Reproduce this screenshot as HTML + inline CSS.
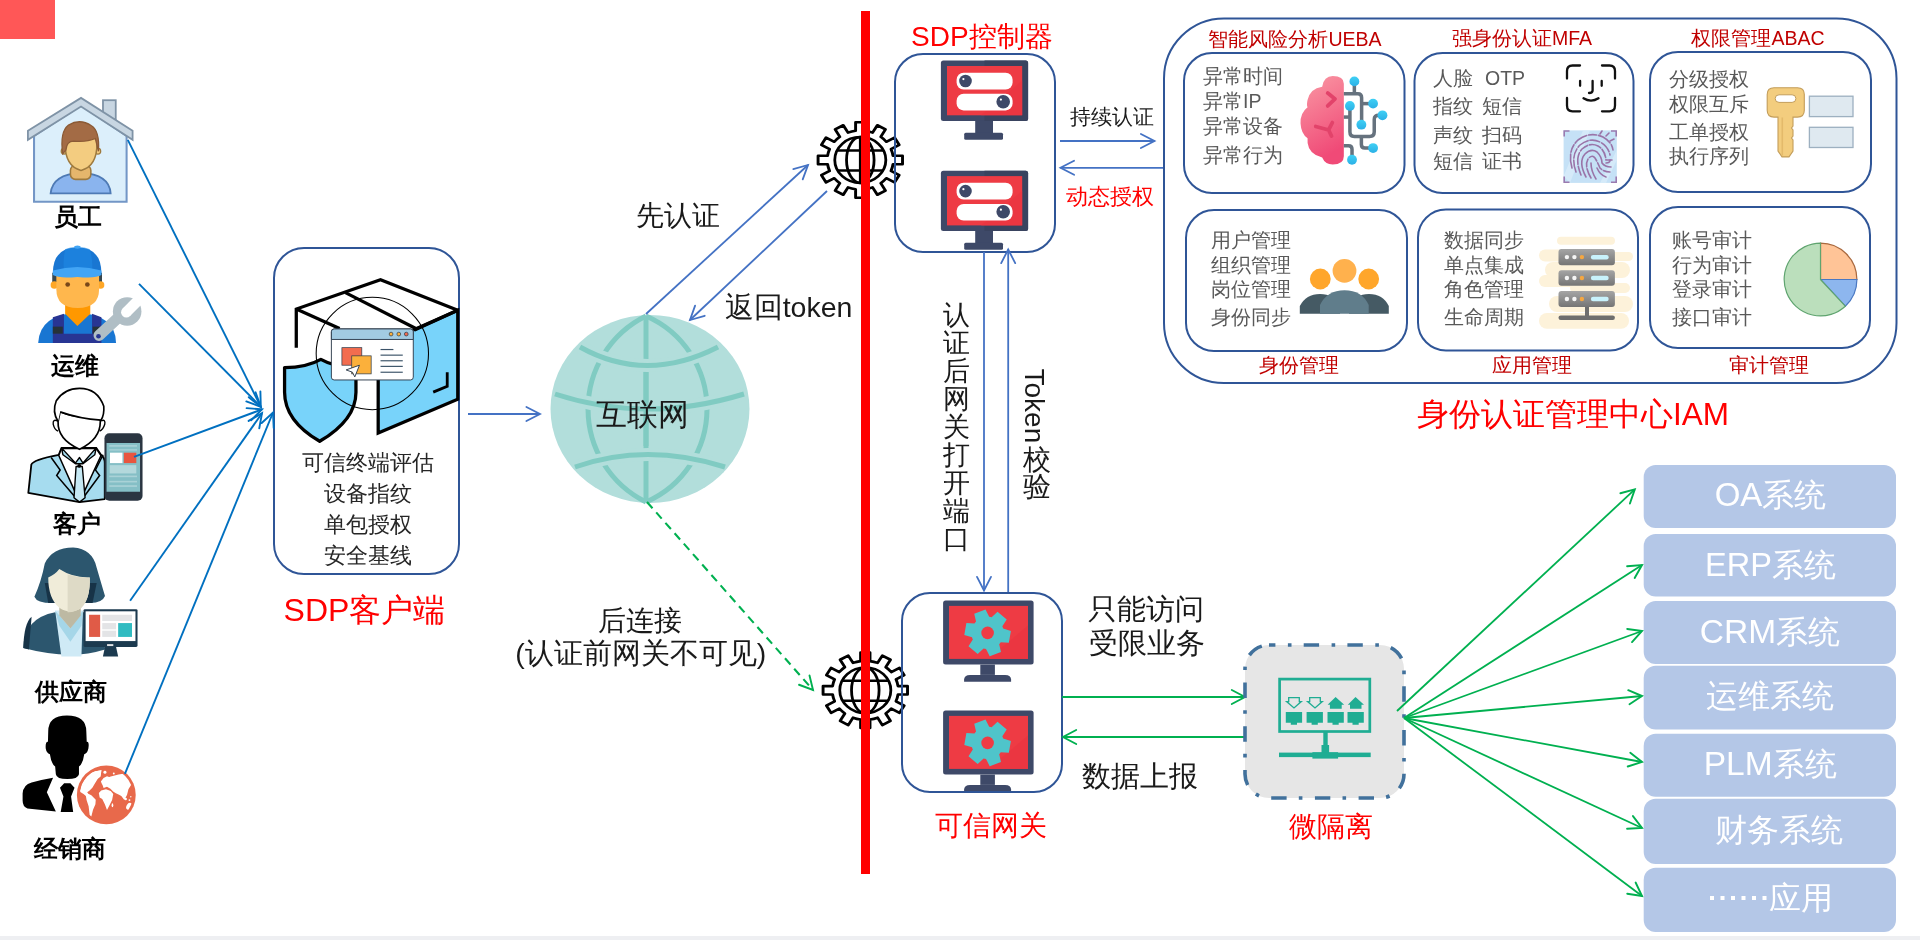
<!DOCTYPE html>
<html><head><meta charset="utf-8">
<style>
html,body{margin:0;padding:0;background:#fff;}
body{width:1920px;height:940px;overflow:hidden;position:relative;font-family:"Liberation Sans",sans-serif;}
svg{position:absolute;left:0;top:0;will-change:transform;}
text{font-family:"Liberation Sans",sans-serif;}
</style></head><body>
<svg width="1920" height="940" viewBox="0 0 1920 940">
<defs>
<marker id="ab" viewBox="-16 -8 17 16" refX="0" refY="0" markerWidth="17" markerHeight="16" markerUnits="userSpaceOnUse" orient="auto" overflow="visible"><path d="M-13.6,-7 L0,0 L-13.6,7" fill="none" stroke="#4472C4" stroke-width="1.8" stroke-linecap="round" stroke-linejoin="miter"/></marker>
<marker id="ab2" viewBox="-16 -8 17 16" refX="0" refY="0" markerWidth="17" markerHeight="16" markerUnits="userSpaceOnUse" orient="auto" overflow="visible"><path d="M-14,-6.5 L0,0 L-14,6.5" fill="none" stroke="#0070C0" stroke-width="1.9" stroke-linecap="round" stroke-linejoin="miter"/></marker>
<marker id="ag" viewBox="-16 -8 17 16" refX="0" refY="0" markerWidth="17" markerHeight="16" markerUnits="userSpaceOnUse" orient="auto" overflow="visible"><path d="M-13.2,-7 L0,0 L-13.2,7" fill="none" stroke="#00B050" stroke-width="1.9" stroke-linecap="round" stroke-linejoin="miter"/></marker>

<symbol id="gearglobe" overflow="visible">
<g transform="scale(1.12,1)">
<path d="M-4.20,-29.20 L-4.20,-37.70 L4.20,-37.70 L4.20,-29.20 A29.5,29.5 0 0 1 10.96,-27.39 L15.21,-34.75 L22.49,-30.55 L18.24,-23.19 A29.5,29.5 0 0 1 23.19,-18.24 L30.55,-22.49 L34.75,-15.21 L27.39,-10.96 A29.5,29.5 0 0 1 29.20,-4.20 L37.70,-4.20 L37.70,4.20 L29.20,4.20 A29.5,29.5 0 0 1 27.39,10.96 L34.75,15.21 L30.55,22.49 L23.19,18.24 A29.5,29.5 0 0 1 18.24,23.19 L22.49,30.55 L15.21,34.75 L10.96,27.39 A29.5,29.5 0 0 1 4.20,29.20 L4.20,37.70 L-4.20,37.70 L-4.20,29.20 A29.5,29.5 0 0 1 -10.96,27.39 L-15.21,34.75 L-22.49,30.55 L-18.24,23.19 A29.5,29.5 0 0 1 -23.19,18.24 L-30.55,22.49 L-34.75,15.21 L-27.39,10.96 A29.5,29.5 0 0 1 -29.20,4.20 L-37.70,4.20 L-37.70,-4.20 L-29.20,-4.20 A29.5,29.5 0 0 1 -27.39,-10.96 L-34.75,-15.21 L-30.55,-22.49 L-23.19,-18.24 A29.5,29.5 0 0 1 -18.24,-23.19 L-22.49,-30.55 L-15.21,-34.75 L-10.96,-27.39 A29.5,29.5 0 0 1 -4.20,-29.20Z" fill="#fff" stroke="#000" stroke-width="2.6" stroke-linejoin="round"/>
<ellipse cx="0" cy="0" rx="22.8" ry="22.9" fill="none" stroke="#000" stroke-width="2.5"/>
<ellipse cx="0" cy="0" rx="12.3" ry="22.9" fill="none" stroke="#000" stroke-width="2.5"/>
<line x1="0" y1="-22.9" x2="0" y2="22.9" stroke="#000" stroke-width="2.5"/>
<line x1="-20.5" y1="-9.5" x2="20.5" y2="-9.5" stroke="#000" stroke-width="2.5"/>
<line x1="-20.5" y1="10.5" x2="20.5" y2="10.5" stroke="#000" stroke-width="2.5"/>
</g>
</symbol>
<symbol id="mon1" overflow="visible">
<rect x="0" y="0" width="87.2" height="60.3" rx="2.5" fill="#3E4968"/>
<path d="M43.6,0 H84.7 Q87.2,0 87.2,2.5 V57.8 Q87.2,60.3 84.7,60.3 H43.6Z" fill="#39435F"/>
<rect x="6.1" y="5.4" width="75.2" height="49.3" fill="#EE3B44"/>
<path d="M81.3,20 V54.7 H40Z" fill="#EA3540" opacity="0.7"/>
<rect x="15.7" y="12.1" width="56" height="16.8" rx="7" fill="#fff"/>
<rect x="15.7" y="33.2" width="56" height="16.6" rx="7" fill="#fff"/>
<circle cx="24.6" cy="20.4" r="6.3" fill="#3E4968"/>
<circle cx="62.3" cy="41.1" r="6.8" fill="#3E4968"/>
<circle cx="22.5" cy="18.5" r="1.1" fill="#fff"/>
<circle cx="60" cy="39" r="1.1" fill="#fff"/>
<rect x="34.3" y="60.3" width="17.8" height="12.1" fill="#3E4968"/>
<rect x="23.3" y="72.1" width="38.8" height="7" rx="1.5" fill="#3E4968"/>
</symbol>
<symbol id="mon2" overflow="visible">
<rect x="0" y="0" width="90.5" height="64" rx="2.5" fill="#3E4968"/>
<rect x="5.9" y="5.3" width="79" height="53" fill="#EE3B44"/>
<path d="M84.9,25 V58.3 H45Z" fill="#EA3540" opacity="0.7"/>
<g transform="translate(44.5,32.3)"><path d="M15.60,-4.36 L23.30,-1.98 L21.21,9.83 L13.17,9.43 A16.2,16.2 0 0 1 11.57,11.33 L13.37,19.18 L2.09,23.29 L-1.58,16.12 A16.2,16.2 0 0 1 -4.03,15.69 L-9.93,21.17 L-19.12,13.46 L-14.75,6.69 A16.2,16.2 0 0 1 -15.60,4.36 L-23.30,1.98 L-21.21,-9.83 L-13.17,-9.43 A16.2,16.2 0 0 1 -11.57,-11.33 L-13.37,-19.18 L-2.09,-23.29 L1.58,-16.12 A16.2,16.2 0 0 1 4.03,-15.69 L9.93,-21.17 L19.12,-13.46 L14.75,-6.69 A16.2,16.2 0 0 1 15.60,-4.36Z" fill="#4FC4CA"/><circle r="6.3" fill="#EE3B44"/></g>
<rect x="37.2" y="64" width="14.6" height="10.3" fill="#3E4968"/>
<path d="M21,81.1 V79 Q21,74.3 27,74.3 H62 Q68,74.3 68,79 V81.1Z" fill="#3E4968"/>
</symbol>
</defs>
<!-- top-left red block -->
<rect x="0" y="0" width="55" height="39" fill="#FF5757"/>
<!-- bottom strip -->
<rect x="0" y="936" width="1920" height="4" fill="#EEEFF2"/>


<!-- gears -->
<use href="#gearglobe" x="860.3" y="160"/>
<use href="#gearglobe" x="865.3" y="690.3"/>
<!-- controller monitors -->
<use href="#mon1" x="940.9" y="60.6"/>
<use href="#mon1" x="940.9" y="170.7"/>
<!-- gateway monitors -->
<use href="#mon2" x="943.1" y="600.6"/>
<use href="#mon2" x="943.1" y="710.6"/>
<!-- red vertical line -->
<rect x="861" y="11" width="9" height="863" fill="#FF0000"/>

<!-- SDP client box -->
<rect x="274" y="248" width="185" height="326" rx="30" fill="none" stroke="#2F5597" stroke-width="2"/>
<g font-size="22" fill="#262626" text-anchor="middle">
<text x="368" y="470">可信终端评估</text>
<text x="368" y="501">设备指纹</text>
<text x="368" y="532">单包授权</text>
<text x="368" y="563">安全基线</text>
</g>
<text x="364.5" y="620.5" font-size="32" fill="#FF0000" text-anchor="middle">SDP客户端</text>

<!-- arrow client->globe -->
<line x1="468" y1="414" x2="540" y2="414" stroke="#4472C4" stroke-width="1.8" marker-end="url(#ab)"/>

<!-- globe -->
<g id="globe">
<ellipse cx="650" cy="409" rx="99.5" ry="94" fill="#B2DEDB"/>
<g fill="none" stroke="#80CBC2" stroke-width="5">
<path d="M646,316 A103.6,103.6 0 0 0 646,502"/>
<path d="M646,316 A101.4,101.4 0 0 1 646,502"/>
<line x1="646" y1="316" x2="646" y2="502"/>
</g>
<g fill="none" stroke="#B2DEDB" stroke-width="13">
<path d="M580,347 Q646,384 718,347"/>
<path d="M555,394 Q646,424 744,394"/>
<path d="M575,467 Q646,442 725,467"/>
</g>
<g fill="none" stroke="#80CBC2" stroke-width="5">
<line x1="646" y1="372" x2="646" y2="446"/>
<path d="M580,347 Q646,384 718,347"/>
<path d="M555,394 Q646,424 744,394"/>
<path d="M575,467 Q646,442 725,467"/>
</g>
</g>
<text x="642" y="425" font-size="31" fill="#1a1a1a" text-anchor="middle">互联网</text>

<!-- auth arrows -->
<line x1="646" y1="314" x2="808" y2="165" stroke="#4472C4" stroke-width="1.8" marker-end="url(#ab)"/>
<line x1="827" y1="191" x2="690" y2="320" stroke="#4472C4" stroke-width="1.8" marker-end="url(#ab)"/>
<text x="677.5" y="224.5" font-size="28" fill="#1a1a1a" text-anchor="middle">先认证</text>
<text x="788.5" y="316.5" font-size="28.5" fill="#1a1a1a" text-anchor="middle">返回token</text>

<!-- dashed green -->
<line x1="647" y1="502" x2="813" y2="690" stroke="#00B050" stroke-width="2.1" stroke-dasharray="8.3,5.6" marker-end="url(#ag)"/>
<text x="640.1" y="630" font-size="28.2" fill="#1a1a1a" text-anchor="middle">后连接</text>
<text x="640.8" y="663" font-size="28.5" fill="#1a1a1a" text-anchor="middle">(认证前网关不可见)</text>

<!-- controller -->
<text x="981.9" y="45.5" font-size="28" fill="#FF0000" text-anchor="middle">SDP控制器</text>
<rect x="895" y="54" width="160" height="198" rx="28" fill="none" stroke="#2F5597" stroke-width="2"/>

<!-- gateway -->
<rect x="902" y="593" width="160" height="199" rx="28" fill="none" stroke="#2F5597" stroke-width="2"/>
<text x="991.3" y="834.5" font-size="28" fill="#FF0000" text-anchor="middle">可信网关</text>

<!-- controller <-> IAM arrows -->
<line x1="1060" y1="141" x2="1154.5" y2="141" stroke="#4472C4" stroke-width="1.8" marker-end="url(#ab)"/>
<line x1="1165" y1="167.8" x2="1060.5" y2="167.8" stroke="#4472C4" stroke-width="1.8" marker-end="url(#ab)"/>
<text x="1111.5" y="124" font-size="21" fill="#1a1a1a" text-anchor="middle">持续认证</text>
<text x="1110.3" y="204" font-size="21.6" fill="#FF0000" text-anchor="middle">动态授权</text>

<!-- vertical arrows -->
<line x1="984" y1="252" x2="984" y2="590.5" stroke="#4472C4" stroke-width="1.8" marker-end="url(#ab)"/>
<line x1="1008.2" y1="592" x2="1008.2" y2="249.5" stroke="#4472C4" stroke-width="1.8" marker-end="url(#ab)"/>

<!-- gateway <-> micro -->
<line x1="1062" y1="697" x2="1245" y2="697" stroke="#00B050" stroke-width="1.8" marker-end="url(#ag)"/>
<line x1="1245" y1="737" x2="1063" y2="737" stroke="#00B050" stroke-width="1.8" marker-end="url(#ag)"/>
<text x="1146" y="619" font-size="28.5" fill="#1a1a1a" text-anchor="middle">只能访问</text>
<text x="1146.5" y="653" font-size="28.5" fill="#1a1a1a" text-anchor="middle">受限业务</text>
<text x="1139.8" y="786" font-size="28.6" fill="#1a1a1a" text-anchor="middle">数据上报</text>

<!-- micro isolation -->
<rect x="1245" y="645" width="159" height="153" rx="24" fill="#E6E6E6" stroke="#41719C" stroke-width="3.6" stroke-dasharray="15.4,12.5,3.6,12.2" stroke-dashoffset="9"/>
<text x="1330.9" y="836" font-size="28.2" fill="#FF0000" text-anchor="middle">微隔离</text>

<!-- system boxes -->
<g fill="#B4C7E7">
<rect x="1643.7" y="464.9" width="252.3" height="63" rx="12"/>
<rect x="1643.7" y="534.1" width="252.3" height="62.5" rx="12"/>
<rect x="1643.7" y="601" width="252.3" height="63" rx="12"/>
<rect x="1643.7" y="665.7" width="252.3" height="63.9" rx="12"/>
<rect x="1643.7" y="733.8" width="252.3" height="63" rx="12"/>
<rect x="1643.7" y="798.8" width="252.3" height="65.1" rx="12"/>
<rect x="1643.7" y="867.8" width="252.3" height="64.1" rx="12"/>
</g>
<g font-size="32" fill="#FFFFFF" text-anchor="middle">
<text x="1770.5" y="505.8"><tspan font-size="33">OA</tspan>系统</text>
<text x="1770.5" y="576"><tspan font-size="32.5">ERP</tspan>系统</text>
<text x="1770" y="643.2"><tspan font-size="33.5">CRM</tspan>系统</text>
<text x="1769.5" y="706.7">运维系统</text>
<text x="1770.2" y="775.4"><tspan font-size="33.5">PLM</tspan>系统</text>
<text x="1779.4" y="840.9">财务系统</text>
<text x="1801.1" y="909.2">应用</text>
</g>
<g fill="#FFFFFF"><rect x="1710" y="896" width="4" height="4"/><rect x="1720.5" y="896" width="4" height="4"/><rect x="1731" y="896" width="4" height="4"/><rect x="1741.5" y="896" width="4" height="4"/><rect x="1752" y="896" width="4" height="4"/><rect x="1762.5" y="896" width="4" height="4"/></g>
<!-- fan -->
<g stroke="#00B050" stroke-width="1.8" fill="none" marker-end="url(#ag)">
<line x1="1397" y1="711" x2="1634.8" y2="489.4"/>
<line x1="1404" y1="718" x2="1642" y2="565"/>
<line x1="1404" y1="718" x2="1642" y2="631"/>
<line x1="1404" y1="718" x2="1642" y2="696"/>
<line x1="1404" y1="718" x2="1642" y2="762"/>
<line x1="1404" y1="718" x2="1642" y2="828"/>
<line x1="1404" y1="718" x2="1642" y2="896"/>
</g>

<!-- IAM -->
<rect x="1164" y="18.5" width="732.5" height="364.5" rx="60" fill="none" stroke="#2F5597" stroke-width="2"/>
<g fill="none" stroke="#2F5597" stroke-width="2">
<rect x="1184" y="53" width="220.5" height="140" rx="28"/>
<rect x="1414.5" y="53" width="219" height="140" rx="28"/>
<rect x="1650" y="52" width="221" height="140" rx="28"/>
<rect x="1186" y="210" width="221" height="141" rx="28"/>
<rect x="1418" y="209.5" width="220" height="141" rx="28"/>
<rect x="1650" y="207" width="220" height="141" rx="28"/>
</g>
<g font-size="19.5" fill="#C00000" text-anchor="middle">
<text x="1295" y="46">智能风险分析UEBA</text>
<text x="1522" y="45">强身份认证MFA</text>
<text x="1758" y="45">权限管理ABAC</text>
<text x="1299" y="372">身份管理</text>
<text x="1532" y="372">应用管理</text>
<text x="1769" y="372">审计管理</text>
</g>
<text x="1573" y="425" font-size="31.5" fill="#FF0000" text-anchor="middle">身份认证管理中心IAM</text>
<g font-size="19.5" fill="#595959">
<text x="1203" y="83">异常时间</text>
<text x="1203" y="108">异常IP</text>
<text x="1203" y="133">异常设备</text>
<text x="1203" y="162">异常行为</text>
<text x="1433" y="85">人脸</text><text x="1485" y="85">OTP</text>
<text x="1433" y="113">指纹</text><text x="1482" y="113">短信</text>
<text x="1433" y="142">声纹</text><text x="1482" y="142">扫码</text>
<text x="1433" y="168">短信</text><text x="1482" y="168">证书</text>
<text x="1669" y="86">分级授权</text>
<text x="1669" y="111">权限互斥</text>
<text x="1669" y="139">工单授权</text>
<text x="1669" y="163">执行序列</text>
<text x="1211" y="247">用户管理</text>
<text x="1211" y="272">组织管理</text>
<text x="1211" y="296">岗位管理</text>
<text x="1211" y="324">身份同步</text>
<text x="1444" y="247">数据同步</text>
<text x="1444" y="272">单点集成</text>
<text x="1444" y="296">角色管理</text>
<text x="1444" y="324">生命周期</text>
<text x="1672" y="247">账号审计</text>
<text x="1672" y="272">行为审计</text>
<text x="1672" y="296">登录审计</text>
<text x="1672" y="324">接口审计</text>
</g>


<!-- actor 1: employee house -->
<g transform="translate(20,90) scale(0.12766)">
<path d="M110,360 L478,120 L835,360 L835,875 L110,875 Z" fill="#DCEFFB" stroke="#7396C6" stroke-width="16"/>
<rect x="650" y="80" width="100" height="150" fill="#C8D6E2" stroke="#7F93A6" stroke-width="14"/>
<path d="M62,320 L478,62 L882,320 L882,390 L478,130 L62,390 Z" fill="#C8D6E2" stroke="#7F93A6" stroke-width="14" stroke-linejoin="miter"/>
<path d="M240,810 Q255,660 478,650 Q700,660 710,810 Z" fill="#8AB4EE" stroke="#4E7AB5" stroke-width="14"/>
<rect x="395" y="590" width="160" height="110" rx="40" fill="#E5B66C" stroke="#9E7A3E" stroke-width="12"/>
<circle cx="345" cy="480" r="22" fill="#F3CC80" stroke="#9E7A3E" stroke-width="10"/>
<circle cx="610" cy="480" r="22" fill="#F3CC80" stroke="#9E7A3E" stroke-width="10"/>
<path d="M353,420 Q353,600 478,630 Q603,600 603,420 Q603,300 478,300 Q353,300 353,420Z" fill="#F3CC80" stroke="#9E7A3E" stroke-width="12"/>
<path d="M335,500 Q310,330 380,275 Q470,220 560,280 Q625,320 615,480 Q600,420 590,380 Q520,410 420,400 Q365,400 360,470 Z" fill="#A36B45" stroke="#8B5A35" stroke-width="10"/>
</g>

<!-- actor 2: worker -->
<g transform="translate(30,240) scale(0.11707)">
<path d="M70,880 Q80,640 405,620 Q735,640 735,880 Z" fill="#1976D2"/>
<path d="M195,660 L290,630 L290,800 L530,800 L530,630 L610,660 L610,880 L195,880 Z" fill="#283593"/>
<rect x="195" y="740" width="85" height="60" fill="#263238"/>
<rect x="535" y="740" width="75" height="60" fill="#263238"/>
<path d="M300,540 L515,540 L515,630 L405,735 L300,630 Z" fill="#FF9800"/>
<rect x="190" y="280" width="55" height="95" fill="#37474F"/>
<rect x="565" y="280" width="50" height="95" fill="#37474F"/>
<circle cx="208" cy="385" r="32" fill="#FFA726"/>
<circle cx="603" cy="385" r="32" fill="#FFA726"/>
<path d="M225,300 L590,300 L590,420 Q590,580 407,580 Q225,580 225,420 Z" fill="#FFB74D"/>
<circle cx="322" cy="380" r="20" fill="#784719"/>
<circle cx="490" cy="380" r="20" fill="#784719"/>
<path d="M195,285 Q195,65 405,65 Q610,65 610,285 Z" fill="#1976D2"/>
<path d="M300,80 Q340,60 405,60 Q470,60 510,80 Q540,180 530,250 L290,250 Q280,180 300,80Z" fill="#1E88E5" opacity="0.6"/>
<path d="M195,260 Q405,200 610,260 L610,300 Q560,330 405,315 Q250,330 195,300 Z" fill="#42A5F5"/>
<ellipse cx="405" cy="60" rx="28" ry="14" fill="#42A5F5"/>
<mask id="wrm" maskUnits="userSpaceOnUse" x="400" y="400" width="700" height="600"><rect x="400" y="400" width="700" height="600" fill="#fff"/><g transform="rotate(-45 830 610)"><rect x="820" y="565" width="250" height="90" fill="#000"/><circle cx="820" cy="610" r="45" fill="#000"/></g></mask>
<g mask="url(#wrm)" fill="#B0BEC5">
<line x1="590" y1="815" x2="790" y2="630" stroke="#B0BEC5" stroke-width="95" stroke-linecap="round"/>
<circle cx="830" cy="610" r="122"/>
</g>
<circle cx="585" cy="822" r="20" fill="#283593"/>
</g>

<!-- actor 3: customer -->
<g transform="translate(20,380) scale(0.13846)">
<path d="M60,815 L82,610 Q95,575 280,540 L300,490 L550,490 L585,540 Q612,560 612,600 L612,860 L430,882 Z" fill="#A6DCEF" stroke="#000" stroke-width="13" stroke-linejoin="round"/>
<path d="M280,545 L430,880 L585,545 L550,495 L300,495 Z" fill="#fff" stroke="#000" stroke-width="11" stroke-linejoin="round"/>
<path d="M225,560 L290,650 L265,690 L410,860" fill="none" stroke="#000" stroke-width="11"/>
<path d="M600,540 L545,650 L575,690 L450,860" fill="none" stroke="#000" stroke-width="11"/>
<path d="M300,490 L400,600 L430,560 L455,600 L550,490 L540,540 L455,605 L400,605 L310,540 Z" fill="#A6DCEF" stroke="#000" stroke-width="10" stroke-linejoin="round"/>
<path d="M405,625 L450,625 L470,850 L430,882 L390,850 Z" fill="#C6E9F4" stroke="#000" stroke-width="10" stroke-linejoin="round"/>
<circle cx="428" cy="620" r="14" fill="#000"/>
<path d="M275,300 Q270,430 430,500 Q580,430 580,300 L575,250 Q430,290 290,230 Z" fill="#fff" stroke="#000" stroke-width="12"/>
<path d="M275,300 Q230,230 262,150 Q320,60 430,60 Q560,60 605,190 Q610,250 585,290 Q430,280 290,230" fill="#fff" stroke="#000" stroke-width="12"/>
<path d="M270,295 Q235,280 240,320 Q250,360 275,370" fill="none" stroke="#000" stroke-width="10"/>
<path d="M585,295 Q620,280 612,320 Q600,360 575,370" fill="none" stroke="#000" stroke-width="10"/>
<rect x="610" y="385" width="275" height="487" rx="35" fill="#2A3541"/>
<rect x="625" y="455" width="242" height="352" fill="#85BFC6"/>
<rect x="645" y="470" width="200" height="12" fill="#A9D2D7"/>
<rect x="645" y="500" width="200" height="10" fill="#A9D2D7"/>
<rect x="650" y="525" width="90" height="75" fill="#fff"/>
<rect x="750" y="525" width="90" height="75" fill="#E8553F"/>
<rect x="648" y="615" width="192" height="60" fill="#B3D8DC"/>
<rect x="645" y="690" width="200" height="12" fill="#A9D2D7"/>
<rect x="645" y="728" width="200" height="12" fill="#A9D2D7"/>
<rect x="645" y="760" width="200" height="12" fill="#A9D2D7"/>
</g>

<!-- actor 4: supplier -->
<g transform="translate(15,540) scale(0.13846)">
<path d="M140,410 Q190,300 215,170 Q270,55 420,55 Q560,65 590,200 Q625,320 650,405 Q630,455 545,455 L290,455 Q160,460 140,410Z" fill="#2C566E"/>
<path d="M215,310 L240,455 L560,455 L590,310 Z" fill="#173347"/>
<path d="M60,780 Q65,565 290,522 L500,522 Q650,560 650,790 Q400,870 60,780 Z" fill="#2C566E"/>
<path d="M60,780 Q65,600 120,555 L100,790 Z" fill="#173347"/>
<path d="M290,510 L490,510 L480,842 L335,842 Z" fill="#CFEAF6"/>
<path d="M290,510 L400,640 L490,510 L480,620 L400,735 L320,620 Z" fill="#A5D6E8"/>
<path d="M320,460 L475,460 L475,545 L400,640 L320,545 Z" fill="#BDB9A3"/>
<path d="M240,270 Q290,250 320,210 Q420,275 540,270 Q545,420 480,490 Q400,545 320,490 Q240,420 240,270 Z" fill="#F0ECD9"/>
<path d="M380,250 Q460,275 540,270 Q545,420 480,490 Q430,525 380,522 Z" fill="#DEDAC6"/>
<rect x="495" y="500" width="390" height="272" rx="10" fill="#1C3A4F"/>
<rect x="510" y="515" width="360" height="215" fill="#fff"/>
<rect x="535" y="540" width="80" height="160" fill="#E05B47"/>
<rect x="630" y="540" width="215" height="45" fill="#E3E4E6"/>
<rect x="630" y="600" width="100" height="45" fill="#E3E4E6"/>
<rect x="630" y="655" width="100" height="45" fill="#E3E4E6"/>
<rect x="745" y="600" width="100" height="100" fill="#30BBC1"/>
<path d="M650,772 L730,772 L745,842 L635,842 Z" fill="#1C3A4F"/>
<rect x="665" y="752" width="45" height="14" fill="#E3E4E6"/>
</g>

<!-- actor 5: dealer -->
<g transform="translate(15,705) scale(0.13846)">
<path d="M240,190 Q240,75 375,75 Q515,75 515,190 L518,265 Q538,262 530,315 Q522,352 500,355 Q490,425 462,445 L462,500 Q455,535 378,535 Q300,535 295,500 L290,445 Q262,425 252,355 Q228,350 222,315 Q218,262 238,265 Z" fill="#000"/>
<path d="M55,640 Q60,575 120,560 Q200,537 275,525 L230,630 L295,770 L90,748 Q55,735 55,690 Z" fill="#000"/>
<path d="M325,598 L355,565 L400,565 L430,598 L405,660 L420,772 L330,772 L350,660 Z" fill="#000"/>
</g>
<g transform="translate(75,762) scale(0.06807)">
<circle cx="460" cy="483" r="432" fill="#E8694B"/>
<clipPath id="gclip"><circle cx="460" cy="483" r="392"/></clipPath>
<g fill="#fff" clip-path="url(#gclip)">
<path d="M75,420 L100,320 L170,215 L250,150 L300,135 L385,125 L375,195 L330,255 L290,320 L255,380 L215,420 L180,445 L205,490 L175,510 L125,470 L78,440Z"/>
<path d="M285,140 L390,118 L375,215 L320,255 L290,230Z"/>
<path d="M150,445 L240,490 L305,555 L300,620 L265,700 L240,800 L215,780 L200,650 L170,560Z"/>
<path d="M380,285 L420,235 L470,210 L510,225 L490,280 L455,305 L400,335Z"/>
<path d="M350,455 L385,420 L455,400 L525,425 L562,470 L545,560 L505,640 L470,705 L440,625 L400,545 L362,520Z"/>
<path d="M430,245 L525,212 L640,182 L730,168 L805,232 L832,322 L785,402 L765,482 L725,560 L680,500 L640,478 L600,460 L560,432 L520,392 L470,362 L420,382 L402,332Z"/>
<ellipse cx="795" cy="650" rx="38" ry="55" transform="rotate(30 795 650)"/>
<ellipse cx="550" cy="635" rx="12" ry="30"/>
<circle cx="745" cy="545" r="18"/><circle cx="800" cy="560" r="14"/><circle cx="820" cy="510" r="10"/>
<circle cx="440" cy="150" r="22"/><circle cx="570" cy="170" r="14"/>
</g>
</g>

<!-- SDP client icon -->
<g transform="translate(260,240) scale(0.23404)">
<path d="M505,825 L505,440 L655,385 L845,300 L845,680 Z" fill="#78D3FA" stroke="#000" stroke-width="14" stroke-linejoin="miter"/>
<g fill="none" stroke="#000" stroke-width="14" stroke-linejoin="miter">
<path d="M155,460 L155,295 L515,170 L845,300"/>
<path d="M155,295 L340,378"/>
<path d="M365,225 L670,380"/>
<path d="M660,385 L845,300"/>
<path d="M800,565 L800,625 L740,650" stroke-width="12"/>
</g>
<path d="M105,545 C180,545 225,530 260,510 C295,530 340,545 410,545 L410,650 C410,740 340,810 255,860 C170,810 105,740 105,650 Z" fill="#78D3FA" stroke="#000" stroke-width="14" stroke-linejoin="round"/>
<circle cx="480" cy="485" r="240" fill="none" stroke="#000" stroke-width="4.5"/>
<rect x="305" y="380" width="350" height="218" rx="12" fill="#fff" stroke="#2B3A4A" stroke-width="4"/>
<path d="M317,380 H643 Q655,380 655,392 V425 H305 V392 Q305,380 317,380Z" fill="#A2CBE2" stroke="#2B3A4A" stroke-width="4"/>
<circle cx="560" cy="402" r="8" fill="#FBB03B" stroke="#2B3A4A" stroke-width="3"/>
<circle cx="593" cy="402" r="8" fill="#FBB03B" stroke="#2B3A4A" stroke-width="3"/>
<circle cx="625" cy="402" r="8" fill="#F26C4F" stroke="#2B3A4A" stroke-width="3"/>
<rect x="350" y="460" width="85" height="75" fill="#F26C4F" stroke="#2B3A4A" stroke-width="3"/>
<rect x="392" y="495" width="83" height="77" fill="#FBB03B" stroke="#2B3A4A" stroke-width="3"/>
<path d="M368,555 L425,535 L405,585 L395,565 Z" fill="#fff" stroke="#2B3A4A" stroke-width="4" stroke-linejoin="round"/>
<g stroke="#3B5368" stroke-width="5">
<line x1="515" y1="468" x2="570" y2="468"/>
<line x1="515" y1="492" x2="610" y2="492"/>
<line x1="515" y1="516" x2="610" y2="516"/>
<line x1="515" y1="540" x2="610" y2="540"/>
<line x1="515" y1="565" x2="610" y2="565"/>
</g>
</g>

<!-- micro icon -->
<g fill="#1FAD93" stroke="none">
<rect x="1279.6" y="679.1" width="90.2" height="52.4" fill="none" stroke="#1FAD93" stroke-width="2.7"/>
<rect x="1323.3" y="731" width="4.4" height="16"/>
<rect x="1321.5" y="745" width="7.6" height="8"/>
<rect x="1279" y="752.6" width="91.7" height="4.5"/>
<rect x="1312.4" y="752.2" width="25.7" height="6.4"/>
<path d="M1285.8,712 h16.3 v10.7 h-5.1 v2.1 h-6.2 v-2.1 h-5z"/>
<path d="M1306.6,712 h16.3 v10.7 h-5.1 v2.1 h-6.2 v-2.1 h-5z"/>
<path d="M1327.5,712 h16.3 v10.7 h-5.1 v2.1 h-6.2 v-2.1 h-5z"/>
<path d="M1347.5,712 h16.3 v10.7 h-5.1 v2.1 h-6.2 v-2.1 h-5z"/>
<path d="M1335.6,697 L1344.2,704.7 H1341.7 V708.8 H1329.9 V704.7 H1327.6 Z"/>
<path d="M1355.5,697 L1364,704.7 H1361.5 V708.8 H1350 V704.7 H1347.8 Z"/>
<path d="M1288.7,697.6 H1299.3 V701.6 H1301.3 L1294,708 L1286.6,701.6 H1288.7 Z" fill="none" stroke="#1FAD93" stroke-width="1.3" stroke-linejoin="miter"/>
<path d="M1309.7,697.6 H1320.3 V701.6 H1322.3 L1315,708 L1307.6,701.6 H1309.7 Z" fill="none" stroke="#1FAD93" stroke-width="1.3" stroke-linejoin="miter"/>
</g>

<!-- brain -->
<defs>
<linearGradient id="brg" x1="0" y1="0" x2="0.3" y2="1"><stop offset="0" stop-color="#FA9AA5"/><stop offset="1" stop-color="#F04A77"/></linearGradient>
<linearGradient id="bdg" x1="0" y1="0" x2="0" y2="1"><stop offset="0" stop-color="#3FD0F5"/><stop offset="1" stop-color="#2BB0E6"/></linearGradient>
</defs>
<g transform="translate(1290,65) scale(0.11702)">
<path d="M460,160 Q460,95 365,95 Q290,95 275,185 Q170,200 150,300 Q140,345 150,360 Q85,410 90,500 Q95,590 150,625 Q140,720 220,770 Q260,785 275,790 Q300,850 365,850 Q460,850 460,780 Z" fill="url(#brg)"/>
<g fill="none" stroke="#E2436A" stroke-width="32" stroke-linecap="round" stroke-linejoin="round">
<path d="M322,240 L385,290 L322,350"/>
<path d="M220,525 L330,555 L362,492 M330,555 L355,608"/>
</g>
<g fill="none" stroke="#66727E" stroke-width="30" stroke-linejoin="round">
<path d="M460,245 H580 Q612,245 612,280 V505"/>
<path d="M550,140 V245"/>
<path d="M612,330 H710"/>
<path d="M460,445 H512"/>
<path d="M512,350 V570 Q512,610 550,610 H680 Q720,610 720,570 V465 Q720,430 760,430 H790"/>
<path d="M610,610 V680 Q610,710 640,710 H710"/>
<path d="M460,690 H500 Q530,690 530,720 V810"/>
</g>
<g fill="url(#bdg)">
<circle cx="550" cy="140" r="42"/><circle cx="710" cy="330" r="42"/><circle cx="512" cy="350" r="42"/>
<circle cx="790" cy="430" r="42"/><circle cx="610" cy="510" r="42"/><circle cx="710" cy="710" r="42"/><circle cx="530" cy="810" r="42"/>
</g>
</g>

<!-- face id -->
<g fill="none" stroke="#111" stroke-width="2.3" stroke-linecap="round">
<path d="M1567,78.5 V71 Q1567,65.5 1572.5,65.5 H1580"/>
<path d="M1602,65.5 H1609.5 Q1615,65.5 1615,71 V78.5"/>
<path d="M1567,98 V105.5 Q1567,111.3 1572.5,111.3 H1580"/>
<path d="M1602,111.3 H1609.5 Q1615,111.3 1615,105.5 V98"/>
<path d="M1580.1,81 V85.8"/>
<path d="M1601.7,81 V85.8"/>
<path d="M1592.6,81 V90.5 Q1592.6,93 1589,93"/>
<path d="M1583.5,98.3 Q1591,103 1598.5,98.3"/>
</g>

<!-- fingerprint -->
<g>
<rect x="1563.6" y="130.4" width="53.2" height="52.5" fill="#C5E1F6"/>
<path d="M1563.6,176 L1583,130.4 H1590 L1570,182.9Z M1600,182.9 L1616.8,150 V160 L1606,182.9Z" fill="#D8ECFA" opacity="0.8"/>
<g fill="none" stroke="#9B7BB0" stroke-width="1.6">
<path d="M1564.2,136.5 V131 H1569.5"/><path d="M1611,131 H1616.2 V136.5"/>
<path d="M1564.2,176.5 V182.3 H1569.5"/><path d="M1611,182.3 H1616.2 V176.5"/>
</g>
<g fill="none" stroke="#9A74A8" stroke-width="1.6" stroke-linecap="round">
<path d="M1572,168 Q1567,150 1578,140 Q1590,131 1603,137 Q1612,142 1613,150" stroke-dasharray="14,2,8,2"/>
<path d="M1576,172 Q1570,155 1580,145 Q1590,137 1600,142 Q1608,146 1610,155 M1610,160 Q1610,163 1606,163" stroke-dasharray="12,2,10,2"/>
<path d="M1581,175 Q1574,158 1582,149 Q1590,142 1598,146 Q1605,150 1606,160 H1612" stroke-dasharray="9,2,12,2"/>
<path d="M1586,177 Q1578,162 1585,154 Q1591,148 1597,152 Q1602,157 1602,163 Q1605,167 1611,167"/>
<path d="M1591,178 Q1584,166 1588,159 Q1592,154 1595,158 Q1598,163 1600,168 Q1604,172 1610,172" stroke-dasharray="10,2,8,2"/>
<path d="M1596,179 Q1591,171 1591,163 M1597,168 Q1600,175 1606,177"/>
<path d="M1600,134 L1602,131 M1606,136 L1609,133 M1610,141 L1614,139"/>
</g>
</g>

<!-- key + rects -->
<g>
<path d="M1774,87.8 H1797.5 Q1804.3,87.8 1804.3,94.6 V110.3 Q1804.3,117.1 1797.5,117.1 H1793 V126 L1791.5,128 L1793,130 V136 L1791.5,138 L1793,140 V151 L1789,156.9 H1782 L1778,151 V117.1 H1774 Q1767.2,117.1 1767.2,110.3 V94.6 Q1767.2,87.8 1774,87.8Z" fill="#F3CD7E" stroke="#C39D5A" stroke-width="1.1"/>
<rect x="1775.2" y="94.8" width="20.7" height="7.6" rx="3.8" fill="#fff" stroke="#C39D5A" stroke-width="1"/>
<rect x="1781.5" y="117.5" width="1.6" height="38" fill="#E4BA6A"/>
<rect x="1809.4" y="96.2" width="43.6" height="20.4" fill="#DFE9F0" stroke="#9DB0C0" stroke-width="1.3"/>
<rect x="1809.4" y="127.3" width="43.6" height="20.2" fill="#DFE9F0" stroke="#9DB0C0" stroke-width="1.3"/>
</g>

<!-- people -->
<g>
<path d="M1299.8,313.7 V306 Q1306,293.9 1320,293.9 Q1334,293.9 1340,306 V313.7Z" fill="#455A64"/>
<path d="M1349,313.7 V306 Q1355,293.9 1369,293.9 Q1383,293.9 1388.8,306 V313.7Z" fill="#455A64"/>
<path d="M1320,313.7 V305 Q1327,290.2 1344.5,290.2 Q1362,290.2 1368.7,305 V313.7Z" fill="#607D8B"/>
<circle cx="1320.3" cy="279" r="10.4" fill="#FFA62B"/>
<circle cx="1368.7" cy="279" r="10.4" fill="#FFA62B"/>
<circle cx="1344.5" cy="270.8" r="11.9" fill="#FFB14D"/>
</g>

<!-- server stack -->
<defs>
<linearGradient id="svg1" x1="0" y1="0" x2="0" y2="1"><stop offset="0" stop-color="#A5A5A5"/><stop offset="1" stop-color="#757575"/></linearGradient>
</defs>
<g>
<g fill="#FDF2DA">
<rect x="1557" y="236.7" width="58" height="8" rx="4"/>
<rect x="1539" y="249.5" width="58" height="12" rx="6"/>
<rect x="1580" y="252" width="53" height="9" rx="4.5"/>
<rect x="1545" y="262" width="85" height="16" rx="8"/>
<rect x="1539" y="275" width="55" height="12" rx="6"/>
<rect x="1570" y="283" width="60" height="10" rx="5"/>
<rect x="1549" y="296" width="84" height="16" rx="8"/>
<rect x="1539" y="313" width="90" height="15.8" rx="7.9"/>
</g>
<rect x="1558.5" y="249" width="56.4" height="16.2" rx="3" fill="url(#svg1)"/>
<rect x="1558.5" y="270.2" width="56.4" height="15.6" rx="3" fill="url(#svg1)"/>
<rect x="1558.5" y="290.9" width="56.4" height="16.1" rx="3" fill="url(#svg1)"/>
<rect x="1585" y="307" width="4" height="9" fill="#6E6E6E"/>
<rect x="1558.5" y="315.4" width="56.4" height="4.5" rx="2.2" fill="#6E6E6E"/>
<g fill="#F5F5F5">
<circle cx="1566.9" cy="257.1" r="2.2"/><circle cx="1574.4" cy="257.1" r="2.2"/>
<circle cx="1566.9" cy="278" r="2.2"/><circle cx="1574.4" cy="278" r="2.2"/>
<circle cx="1566.9" cy="299" r="2.2"/><circle cx="1574.4" cy="299" r="2.2"/>
</g>
<g fill="#F5A742"><circle cx="1581.9" cy="257.1" r="2.2"/><circle cx="1581.9" cy="278" r="2.2"/><circle cx="1581.9" cy="299" r="2.2"/></g>
<g fill="#C8F2FC"><rect x="1590.9" y="254.9" width="17.8" height="4.5" rx="2.2"/><rect x="1590.9" y="275.8" width="17.8" height="4.5" rx="2.2"/><rect x="1590.9" y="296.8" width="17.8" height="4.5" rx="2.2"/></g>
</g>

<!-- pie -->
<g stroke-width="1.2">
<path d="M1820.5,279.5 L1820.5,243.1 A36.4,36.4 0 0 1 1856.9,279.5 Z" fill="#FFC497" stroke="#A9693F"/>
<path d="M1820.5,279.5 L1856.9,279.5 A36.4,36.4 0 0 1 1845.3,306.2 Z" fill="#8DB6EE" stroke="#4A78C2"/>
<path d="M1820.5,279.5 L1845.3,306.2 A36.4,36.4 0 1 1 1820.5,243.1 Z" fill="#BBDFBC" stroke="#5FA46F"/>
</g>
<!-- actor labels -->
<g font-size="24" font-weight="bold" fill="#000" text-anchor="middle">
<text x="78" y="224.5">员工</text>
<text x="75.3" y="374.3">运维</text>
<text x="77" y="531.5">客户</text>
<text x="70.6" y="699.7">供应商</text>
<text x="70" y="857">经销商</text>
</g>
<!-- actor lines -->
<g stroke="#0070C0" stroke-width="1.9" fill="none" marker-end="url(#ab2)">
<line x1="127.8" y1="139.8" x2="260.8" y2="406.8"/>
<line x1="139" y1="283.9" x2="260.8" y2="406.8"/>
<line x1="134" y1="456.8" x2="262" y2="409.4"/>
<line x1="130.1" y1="600.7" x2="262" y2="413.2"/>
<line x1="124.9" y1="773.9" x2="273" y2="412.5"/>
</g>

<!-- vertical texts -->
<g font-size="26.5" fill="#1a1a1a" text-anchor="middle"><text x="956" y="324.3">认</text><text x="956" y="352.2">证</text><text x="956" y="380.1">后</text><text x="956" y="408.0">网</text><text x="956" y="435.9">关</text><text x="956" y="463.8">打</text><text x="956" y="491.7">开</text><text x="956" y="519.6">端</text><text x="956" y="547.5">口</text></g>
<text transform="translate(1024.6,368.5) rotate(90)" font-size="28" fill="#1a1a1a">Token</text><g font-size="27.5" fill="#1a1a1a" text-anchor="middle"><text x="1037.2" y="469">校</text><text x="1037.2" y="496.3">验</text></g>
</svg>
</body></html>
